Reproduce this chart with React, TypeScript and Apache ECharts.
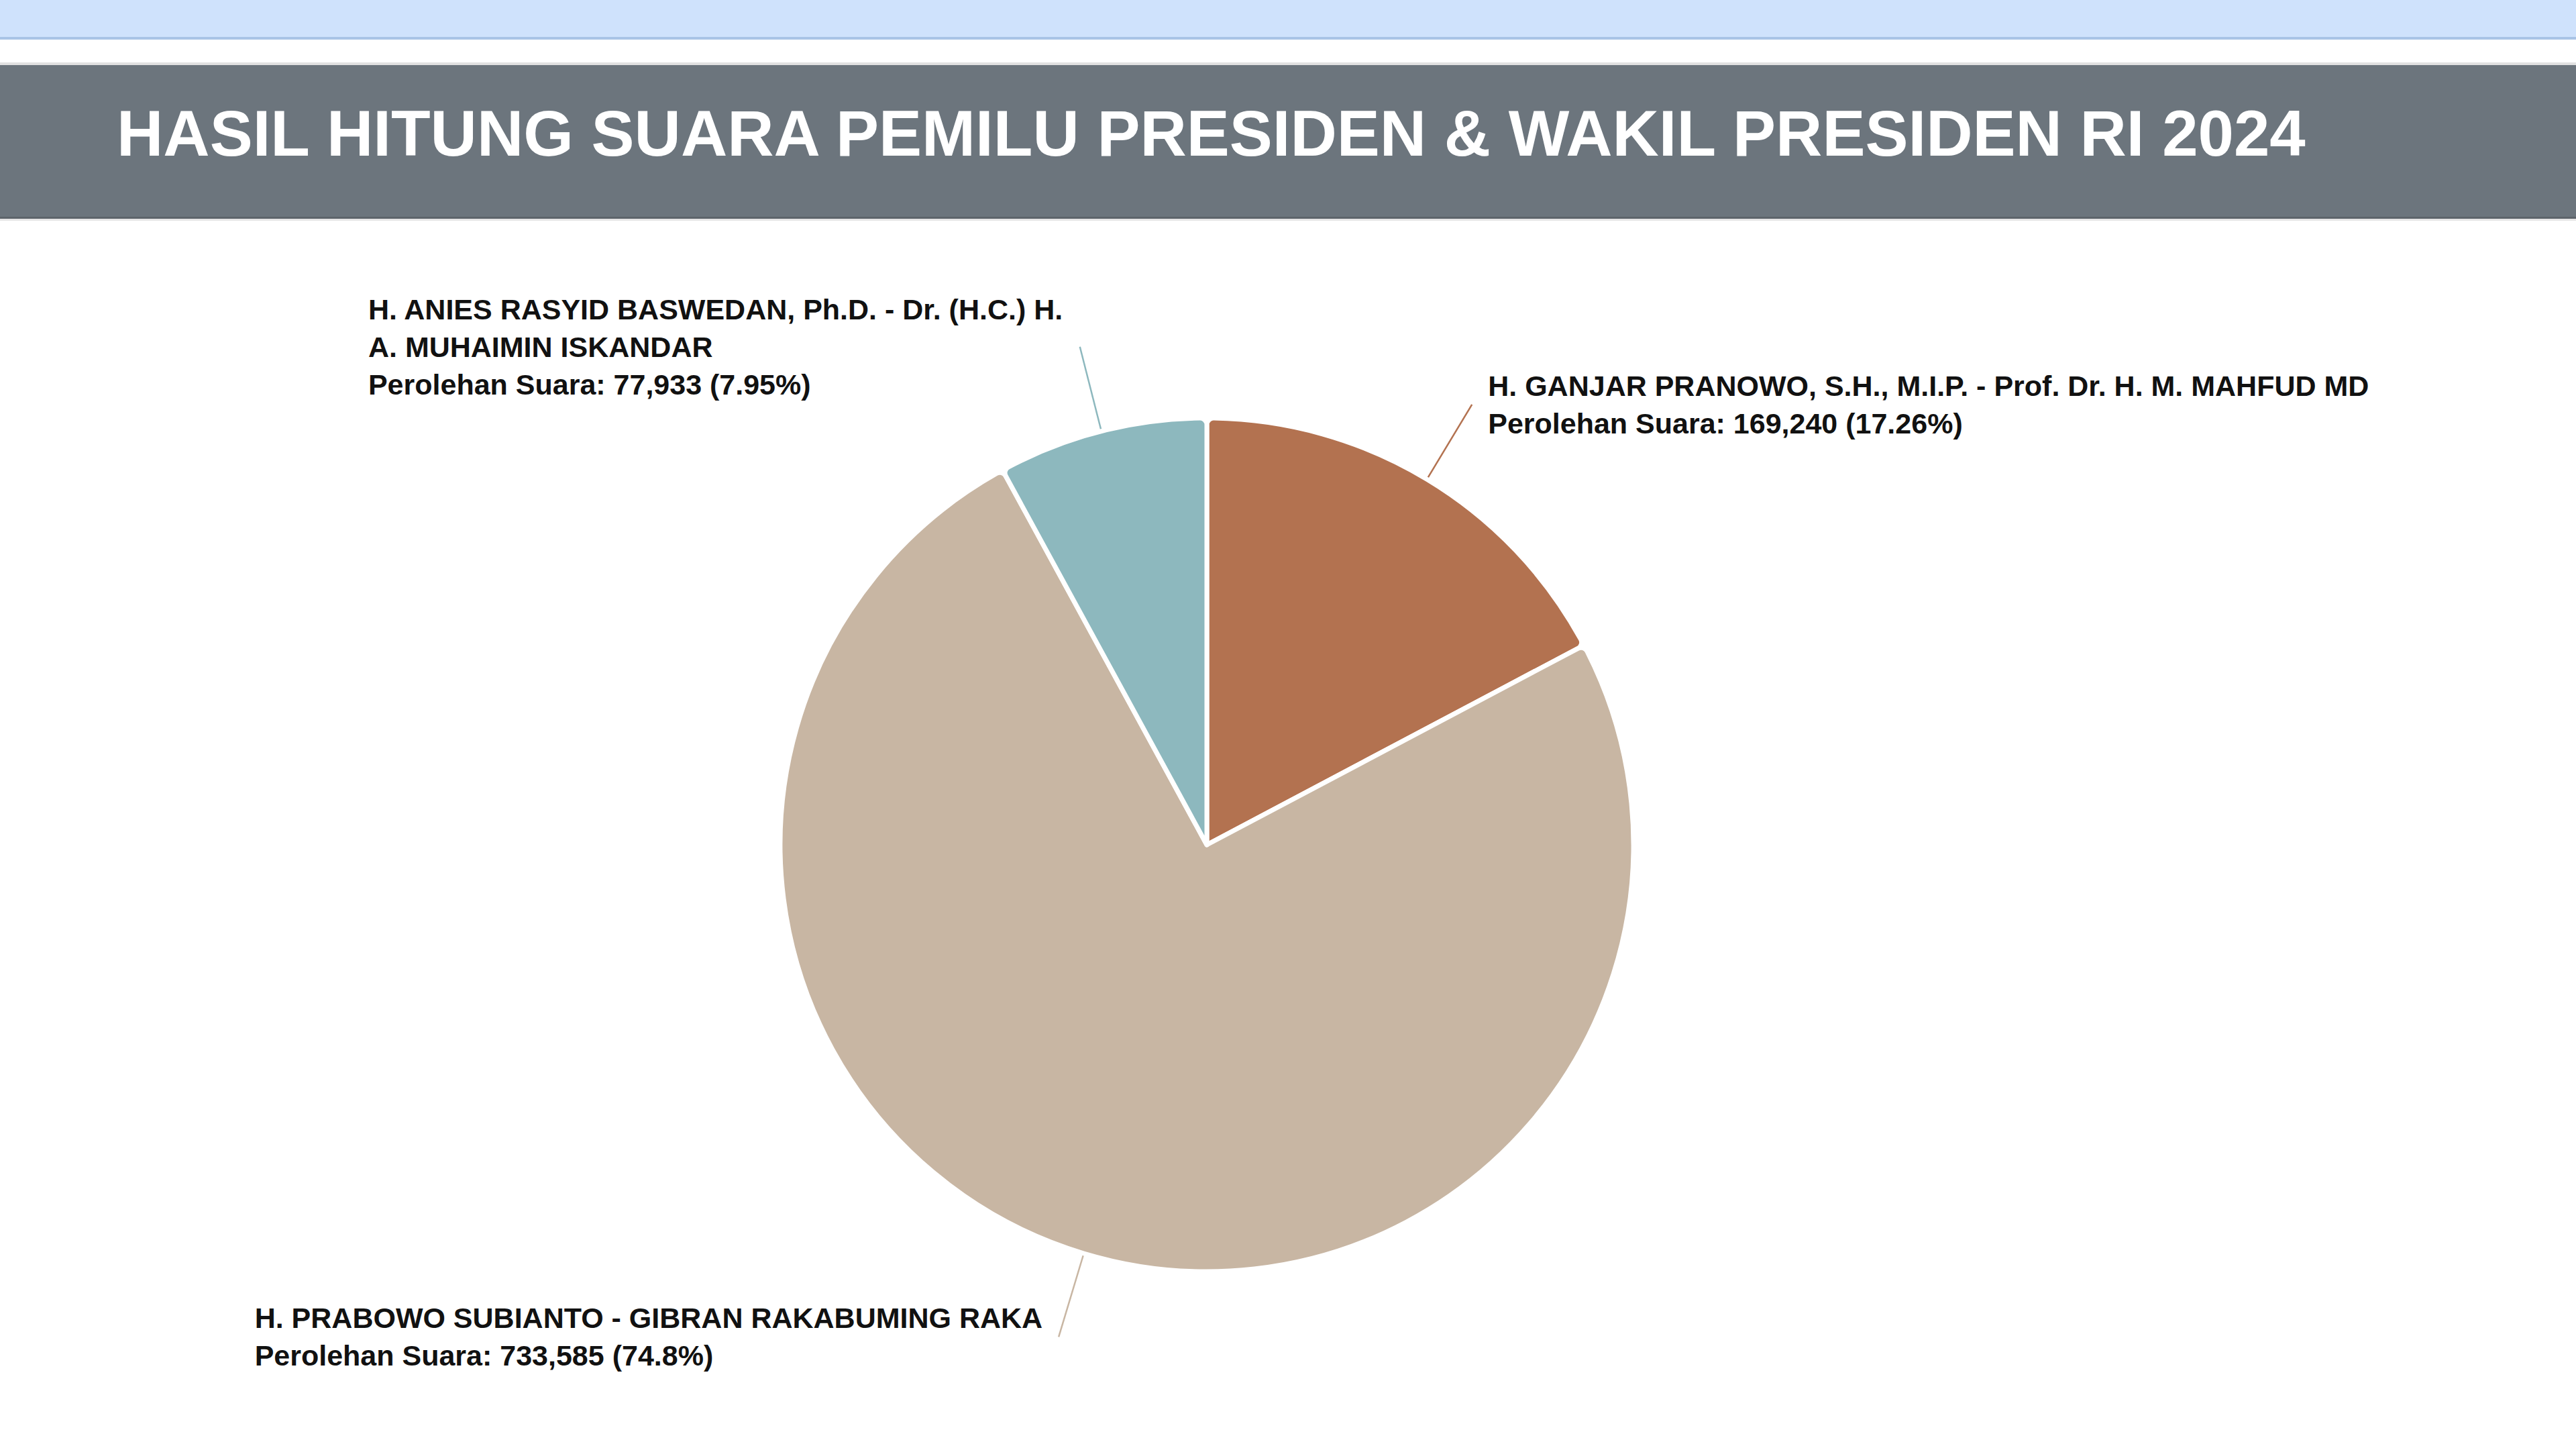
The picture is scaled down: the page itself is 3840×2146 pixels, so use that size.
import React, { useEffect, useRef } from "react";
import * as echarts from "echarts";

const TITLE = "HASIL HITUNG SUARA PEMILU PRESIDEN & WAKIL PRESIDEN RI 2024";
const candidates = [
  "H. GANJAR PRANOWO, S.H., M.I.P. - Prof. Dr. H. M. MAHFUD MD",
  "H. PRABOWO SUBIANTO - GIBRAN RAKABUMING RAKA",
  "H. ANIES RASYID BASWEDAN, Ph.D. - Dr. (H.C.) H. A. MUHAIMIN ISKANDAR",
];
// How each candidate name is wrapped in its label
const nameLines = [
  ["H. GANJAR PRANOWO, S.H., M.I.P. - Prof. Dr. H. M. MAHFUD MD"],
  ["H. PRABOWO SUBIANTO - GIBRAN RAKABUMING RAKA"],
  ["H. ANIES RASYID BASWEDAN, Ph.D. - Dr. (H.C.) H.", "A. MUHAIMIN ISKANDAR"],
];
const votes = [169240, 733585, 77933];
const VALUE_PREFIX = "Perolehan Suara";
const colors = ["#b37250", "#c8b6a3", "#8db8be"];

const W = 3840;
const H = 2146;
const FONT = "'Liberation Sans', Arial, Helvetica, sans-serif";

export default function App() {
  const ref = useRef<HTMLDivElement>(null);

  useEffect(() => {
    document.body.style.margin = "0";
    const chart = echarts.init(ref.current!, null, { renderer: "svg" });
    const total = votes.reduce((a, b) => a + b, 0);
    const labelStyle = {
      fontFamily: FONT,
      fontWeight: "bold",
      fontSize: 43,
      lineHeight: 56,
      color: "#111111",
      align: "left",
    };
    chart.setOption({
      animation: false,
      backgroundColor: "#ffffff",
      graphic: [
        { type: "rect", shape: { x: 0, y: 0, width: W, height: 56 }, style: { fill: "#cfe2fc" } },
        { type: "rect", shape: { x: 0, y: 55, width: W, height: 4 }, style: { fill: "#a9c4e6" } },
        { type: "rect", shape: { x: 0, y: 93, width: W, height: 5 }, style: { fill: "#e1e1e1" } },
        { type: "rect", shape: { x: 0, y: 97, width: W, height: 227 }, style: { fill: "#6c757d" } },
        { type: "rect", shape: { x: 0, y: 323, width: W, height: 3 }, style: { fill: "#5d646b" } },
        { type: "rect", shape: { x: 0, y: 326, width: W, height: 3 }, style: { fill: "#e6e6e6" } },
        {
          type: "text",
          x: 174,
          y: 198,
          style: {
            text: TITLE,
            fill: "#ffffff",
            font: `bold 96px ${FONT}`,
            textAlign: "left",
            textVerticalAlign: "middle",
          },
        },
      ],
      series: [
        {
          type: "pie",
          center: [1799, 1259],
          radius: 636,
          startAngle: 90,
          clockwise: true,
          avoidLabelOverlap: false,
          emphasis: { disabled: true },
          itemStyle: { borderColor: "#ffffff", borderWidth: 7, borderRadius: 10 },
          label: {
            show: true,
            position: "outside",
            distanceToLabelLine: 24,
            ...labelStyle,
            formatter: (p: any) => {
              const pct = parseFloat(((Number(p.value) / total) * 100).toFixed(2));
              const lines = nameLines[p.dataIndex].concat([
                `${VALUE_PREFIX}: ${Number(p.value).toLocaleString("en-US")} (${pct}%)`,
              ]);
              return lines.map((l) => `{t|${l}}`).join("\n");
            },
            rich: { t: { ...labelStyle } },
          },
          labelLine: { show: true, length: 130, length2: 0, smooth: false, lineStyle: { width: 2.5 } },
          data: candidates.map((name, i) => ({
            name,
            value: votes[i],
            itemStyle: { color: colors[i] },
            labelLine: { lineStyle: { color: colors[i] } },
          })),
        },
      ],
    });
    return () => chart.dispose();
  }, []);

  return <div ref={ref} style={{ width: W, height: H }} />;
}
